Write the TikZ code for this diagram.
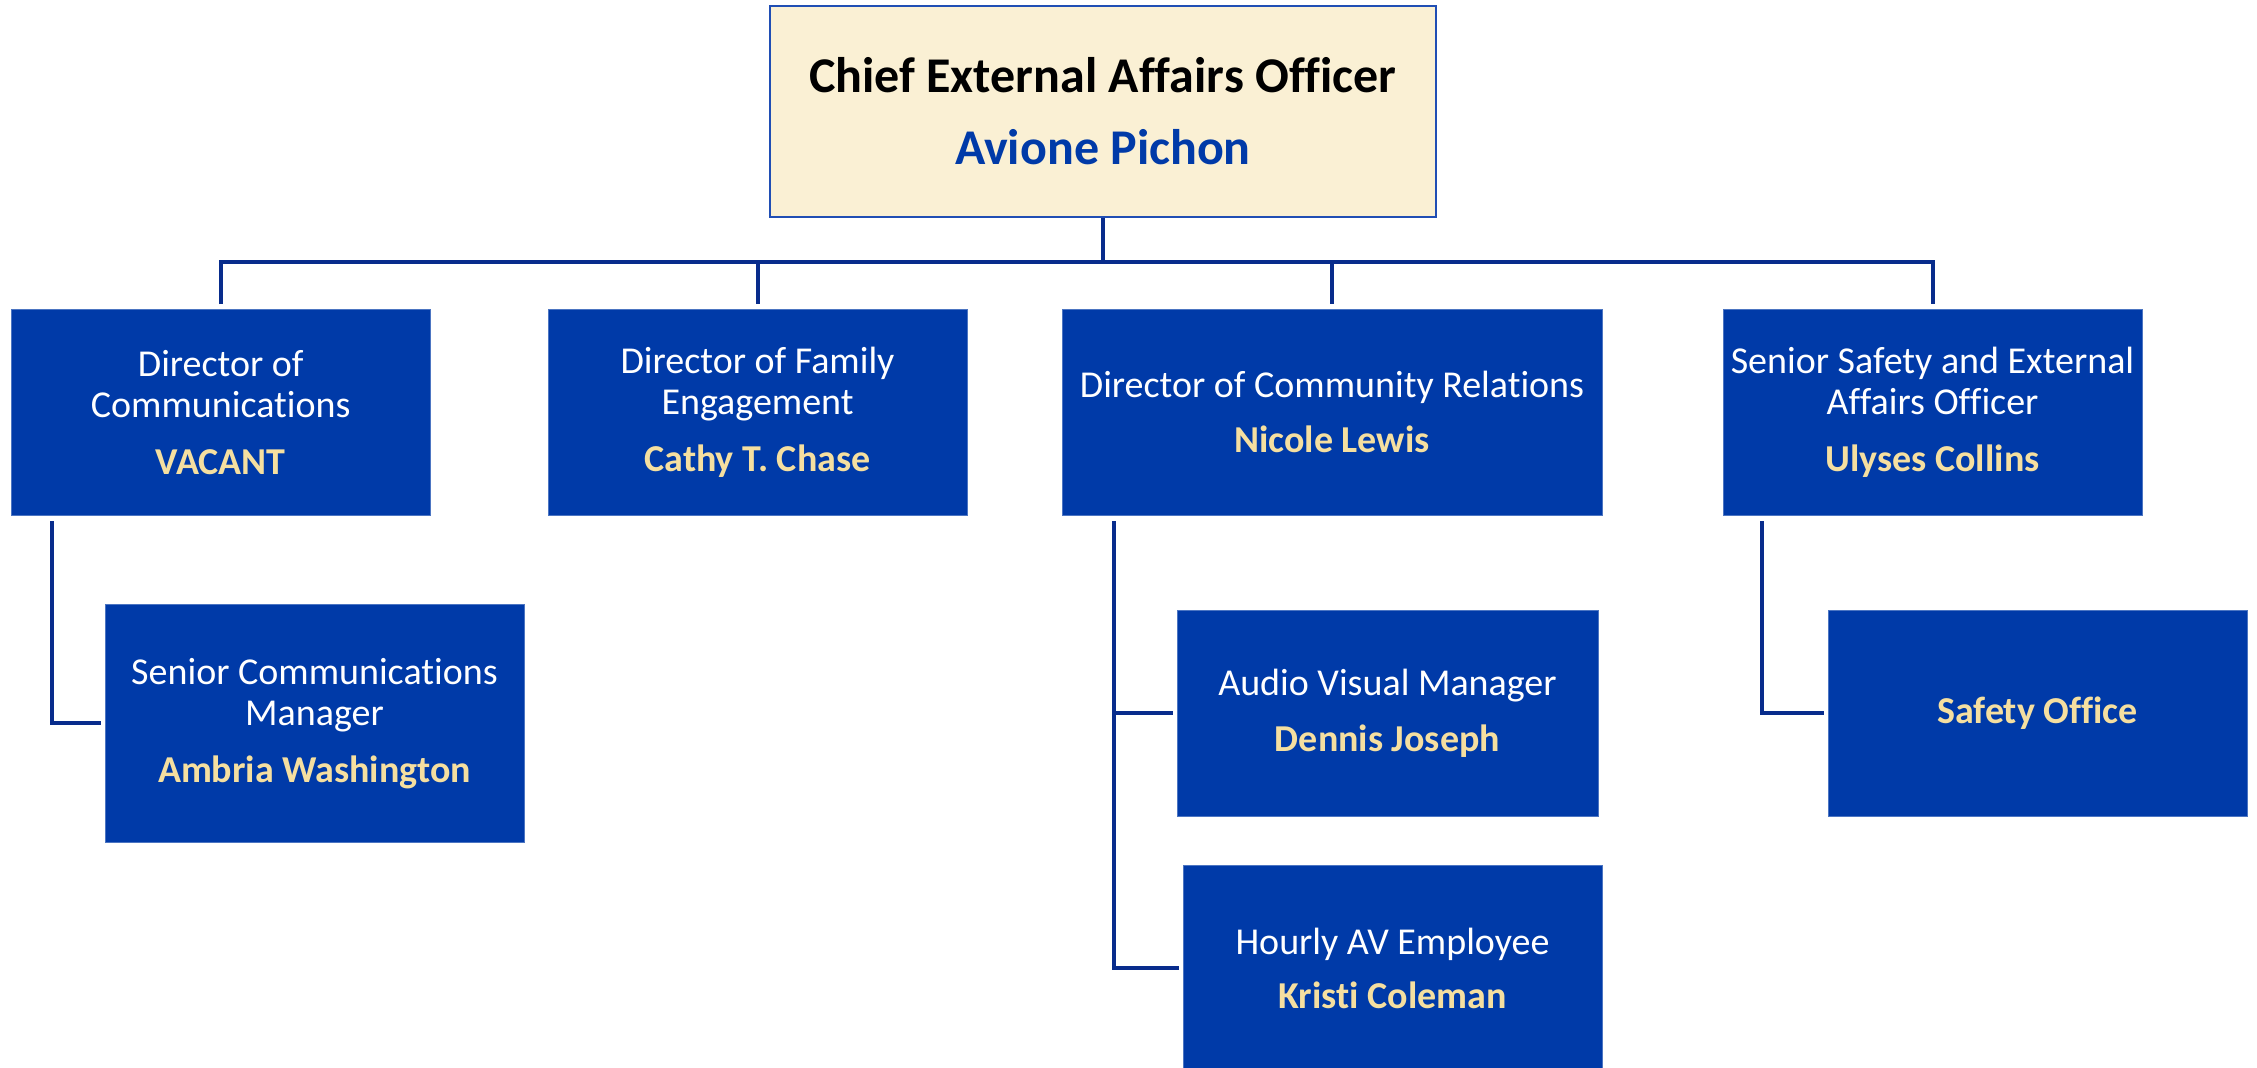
\documentclass[tikz,border=0pt]{standalone}
\usepackage{fontspec}
\setmainfont{Carlito}[RawFeature={-liga;-clig;-calt;-dlig}]
\definecolor{boxblue}{RGB}{0,58,168}
\definecolor{nm}{RGB}{245,223,160}
\definecolor{topfill}{RGB}{250,240,212}
\definecolor{topline}{RGB}{32,78,180}
\definecolor{conncol}{RGB}{8,44,140}
\tikzset{
  orgbox/.style={rectangle, fill=boxblue, draw=boxblue!70!white, line width=0.8pt, inner sep=0pt, text=white, align=center, font=\fontsize{38}{41}\selectfont},
  topbox/.style={rectangle, fill=topfill, draw=topline, line width=2.2pt, inner sep=0pt, align=center, font=\fontsize{50}{72}\selectfont\bfseries},
  conn/.style={draw=conncol, line width=4pt}
}
\newcommand{\nmtext}[1]{{\bfseries\color{nm}#1}}
\begin{document}
\begin{tikzpicture}[x=1pt,y=-1pt]
\useasboundingbox[fill=white] (0,0) rectangle (2257,1068);

\node[topbox, minimum width=666.5pt, minimum height=211pt] (Top) at (1103,111.5)
  {Chief External Affairs Officer\\{\color{boxblue}Avione Pichon}};

\node[orgbox, minimum width=418.5pt, minimum height=205.5pt] (A) at (220.75,412.25)
  {Director of\\Communications\\[16pt]\nmtext{VACANT}};
\node[orgbox, minimum width=419pt, minimum height=205.5pt] (B) at (757.5,412.25)
  {Director of Family\\Engagement\\[16pt]\nmtext{Cathy T. Chase}};
\node[orgbox, minimum width=540pt, minimum height=205.5pt] (C) at (1332,412.25)
  {Director of Community Relations\\[14pt]\nmtext{Nicole Lewis}};
\node[orgbox, minimum width=419pt, minimum height=205.5pt] (D) at (1932.5,412.25)
  {Senior Safety and External\\Affairs Officer\\[16pt]\nmtext{Ulyses Collins}};

\node[orgbox, minimum width=419pt, minimum height=237.5pt] (SCM) at (314.5,723.25)
  {Senior Communications\\Manager\\[16pt]\nmtext{Ambria Washington}};
\node[orgbox, minimum width=421pt, minimum height=206pt] (AVM) at (1387.5,713)
  {Audio Visual Manager\\[15pt]\nmtext{Dennis Joseph}};
\node[orgbox, minimum width=419pt, minimum height=206pt] (HAV) at (1392.5,968)
  {Hourly AV Employee\\[13pt]\nmtext{Kristi Coleman}};
\node[orgbox, minimum width=419pt, minimum height=206pt] (SO) at (2037.5,713)
  {\nmtext{Safety Office}};

% top bus
\coordinate (busy) at (0,262);
\draw[conn] (Top.south) -- (Top.south |- busy);
\draw[conn] ([yshift=5pt]A.north) -- (A.north |- busy) -- (D.north |- busy) -- ([yshift=5pt]D.north);
\draw[conn] (B.north |- busy) -- ([yshift=5pt]B.north);
\draw[conn] (C.north |- busy) -- ([yshift=5pt]C.north);

% Communications branch
\coordinate (ca) at ([xshift=40.5pt,yshift=-6pt]A.south west);
\draw[conn] (ca) |- ([xshift=-4pt]SCM.west);

% Community relations branch
\coordinate (cc) at ([xshift=52pt,yshift=-6pt]C.south west);
\draw[conn] (cc) |- ([xshift=-4pt]HAV.west);
\draw[conn] (cc |- AVM.west) -- ([xshift=-4pt]AVM.west);

% Safety branch
\coordinate (cd) at ([xshift=39pt,yshift=-6pt]D.south west);
\draw[conn] (cd) |- ([xshift=-4pt]SO.west);
\end{tikzpicture}
\end{document}
